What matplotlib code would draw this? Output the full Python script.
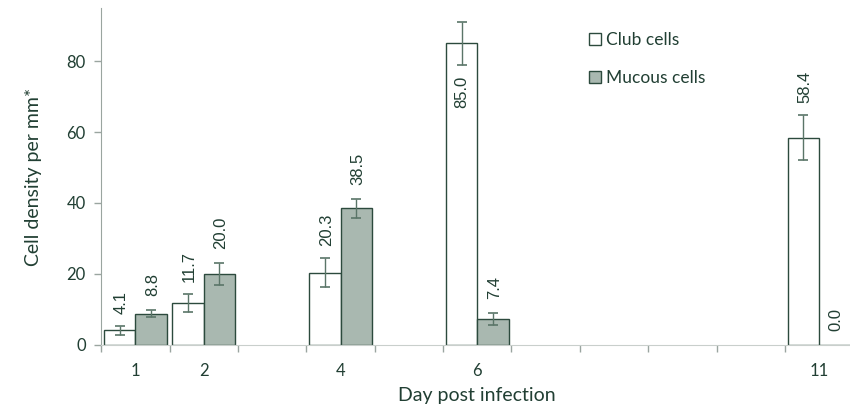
import matplotlib.pyplot as plt
from matplotlib.patches import Patch

# data
days = [1, 2, 4, 6, 11]
club = [4.1, 11.7, 20.3, 85.0, 58.4]
club_err = [1.2, 2.5, 4.1, 6.0, 6.3]
mucous = [8.8, 20.0, 38.5, 7.4, 0.0]
mucous_err = [1.0, 3.2, 2.7, 1.7, 0.0]
n_days = 11
tick_days = [1, 2, 4, 6, 11]

dark = '#213f33'
fill = '#a9b8b0'
edge = '#2c4a3d'

plt.rcParams['font.family'] = ['Lato', 'DejaVu Sans']

fig = plt.figure(figsize=(8.5, 4.16), dpi=100)
ax = fig.add_axes([0.119, 0.171, 0.885, 0.810])

w = 0.46
x_club = [d - w / 2 for d in days]
x_muc = [d + w / 2 for d in days]

ax.bar(x_club, club, width=w, color='white', edgecolor=edge, linewidth=1.0, zorder=2)
ax.bar(x_muc, mucous, width=w, color=fill, edgecolor=edge, linewidth=1.0, zorder=2)

ax.errorbar(x_club, club, yerr=club_err, fmt='none', ecolor='#5a7568',
            elinewidth=1.0, capsize=3.3, capthick=1.2, zorder=3)
ax.errorbar(x_muc[:-1], mucous[:-1], yerr=mucous_err[:-1], fmt='none', ecolor='#5a7568',
            elinewidth=1.0, capsize=3.3, capthick=1.2, zorder=3)

# value labels, rotated like the original
lab_font = dict(rotation=90, ha='center', fontsize=12, family=['Liberation Sans'],
                color=dark, zorder=4)
for x, v, e in zip(x_club, club, club_err):
    if v > 80:
        ax.annotate(f'{v:.1f}', (x, v - e), xytext=(0, -8), textcoords='offset points',
                    va='top', **lab_font)
    else:
        ax.annotate(f'{v:.1f}', (x, v + e), xytext=(1, 9), textcoords='offset points',
                    va='bottom', **lab_font)
for x, v, e in zip(x_muc, mucous, mucous_err):
    ax.annotate(f'{v:.1f}', (x, v + e), xytext=(1, 10), textcoords='offset points',
                va='bottom', **lab_font)

ax.set_xlim(0.5, n_days + 0.5)
ax.set_ylim(0, 95)
ax.set_yticks([0, 20, 40, 60, 80])
ax.set_xticks(tick_days)
ax.set_xticklabels([str(d) for d in tick_days])
ax.set_xticks([i + 0.5 for i in range(n_days)], minor=True)
ax.tick_params(axis='x', which='major', length=0, pad=13, labelsize=12, labelcolor=dark)
ax.tick_params(axis='x', which='minor', length=5, color='#9aa5a0', width=1)
ax.tick_params(axis='y', length=5, color='#9aa5a0', width=1, labelsize=12,
               labelcolor=dark, pad=6)

for s in ['top', 'right']:
    ax.spines[s].set_visible(False)
ax.spines['left'].set_color('#9aa5a0')
ax.spines['bottom'].set_color('#c9cfcc')

ax.set_xlabel('Day post infection', fontsize=14, color=dark, labelpad=6)
ax.set_ylabel('Cell density per mm*', fontsize=14, color=dark, labelpad=18)

handles = [Patch(facecolor='white', edgecolor=edge, label='Club cells'),
           Patch(facecolor=fill, edgecolor=edge, label='Mucous cells')]
ax.legend(handles=handles, loc='upper left', bbox_to_anchor=(0.674, 0.96),
          bbox_transform=fig.transFigure, frameon=False, fontsize=12.5,
          handlelength=0.7, handleheight=0.7, handletextpad=0.3,
          labelspacing=1.25, labelcolor=dark)

fig.savefig('out.png', dpi=100)
